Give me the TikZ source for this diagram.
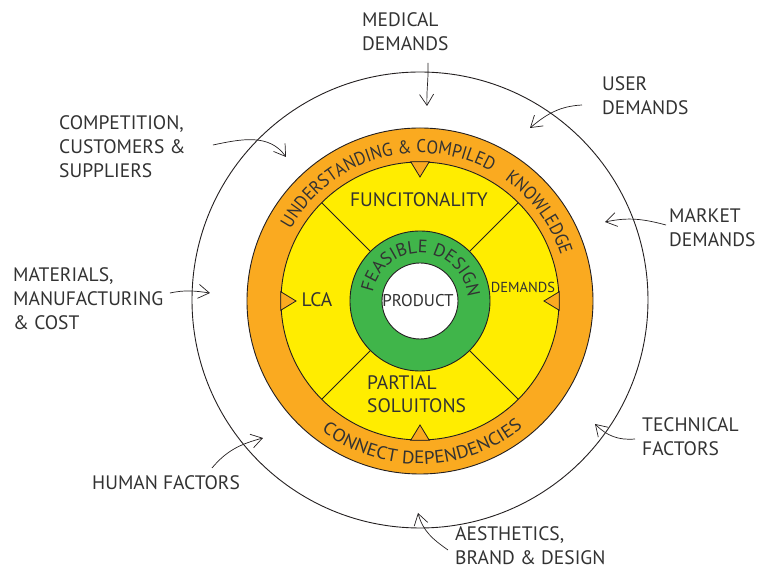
\documentclass[tikz,border=0pt]{standalone}
\usepackage{fontspec}
\setmainfont{PT Sans}
\newfontfamily\arcfont[FakeStretch=0.92]{PT Sans}
\newfontfamily\arcwide[FakeStretch=1.07]{PT Sans}
\usetikzlibrary{arrows.meta,decorations.text}
\definecolor{ringorange}{RGB}{250,170,32}
\definecolor{ringyellow}{RGB}{255,237,0}
\definecolor{ringgreen}{RGB}{64,181,74}
\definecolor{txtgray}{RGB}{50,50,50}
\definecolor{linegray}{RGB}{35,31,32}
\begin{document}
\begin{tikzpicture}[x=1pt,y=1pt]
\tikzset{
  ringline/.style={draw=linegray, line width=0.9pt},
  lbl/.style={align=left, anchor=west, inner sep=0pt, text=txtgray, font=\fontsize{19.5}{24}\selectfont},
  inlbl/.style={inner sep=0pt, text=txtgray, font=\fontsize{19.5}{23}\selectfont},
  infl/.style={-{Straight Barb[length=11pt,width=14pt]}, line width=0.7pt, draw=linegray},
  tri/.style={fill=ringorange, draw=linegray, line width=0.8pt, line join=miter}
}
\useasboundingbox (-420,-268) rectangle (338,301);
% rings
\draw[ringline] (0,1) circle[radius=228];
\draw[ringline, fill=ringorange] (0,0) circle[radius=173];
\draw[ringline, fill=ringyellow] (0,0) circle[radius=139];
\foreach \a in {45,135,225,315} \draw[ringline] (\a:70) -- (\a:139);
\draw[ringline, fill=ringgreen] (0,0) circle[radius=70];
\draw[ringline, fill=white] (0,0) circle[radius=38];
% triangles
\foreach \a in {0,90,180,270}
  \draw[tri] (\a+3.8:139.5) -- (\a:124) -- (\a-3.8:139.5) -- cycle;
% arc texts
\path[decorate, decoration={text along path, text align=center, text color=txtgray,
  text={|\arcfont\fontsize{18.5}{18.5}\selectfont|UNDERSTANDING {\&} COMPILED}}]
  (160:148) arc[start angle=160, end angle=52, radius=148];
\path[decorate, decoration={text along path, text align=center, text color=txtgray,
  text={|\arcfont\fontsize{18.5}{18.5}\selectfont|KNOWLEDGE}}]
  (64:148) arc[start angle=64, end angle=9, radius=148];
\path[decorate, decoration={text along path, text align=center, text color=txtgray,
  text={|\arcwide\fontsize{18}{18}\selectfont|CONNECT DEPENDENCIES}}]
  (218:163) arc[start angle=218, end angle=324, radius=163];
\path[decorate, decoration={text along path, text align=center, text color=txtgray,
  text={|\fontsize{18}{18}\selectfont|FEASIBLE DESIGN}}]
  (182:48) arc[start angle=182, end angle=-8, radius=48];
% inner labels
\node[inlbl] (func) at (-1,101) {FUNCITONALITY};
\node[inlbl] (lca) at (-103,1) {LCA};
\node[inlbl, font=\fontsize{14.5}{14.5}\selectfont] (dem) at (103,14) {DEMANDS};
\node[inlbl, align=left, anchor=west] (part) at (-53,-93.5) {PARTIAL\\SOLUITONS};
\node[inlbl, font=\fontsize{17}{17}\selectfont] (prod) at (-2,0) {PRODUCT};
% outer labels
\node[lbl] (med) at (-58,269.5) {MEDICAL\\DEMANDS};
\node[lbl] (user) at (182,205) {USER\\DEMANDS};
\node[lbl] (comp) at (-361,154) {COMPETITION,\\CUSTOMERS \&\\SUPPLIERS};
\node[lbl] (mat) at (-407,2) {MATERIALS,\\MANUFACTURING\\\& COST};
\node[lbl] (mark) at (249,73.5) {MARKET\\DEMANDS};
\node[lbl] (tech) at (222,-135.5) {TECHNICAL\\FACTORS};
\node[lbl] (hum) at (-328,-182) {HUMAN FACTORS};
\node[lbl] (aes) at (35,-244.5) {AESTHETICS,\\BRAND \& DESIGN};
% arrow ends
\coordinate (medS) at (8,238);   \coordinate (medE) at (7,195);
\coordinate (userS) at (162,196); \coordinate (userE) at (110,173);
\coordinate (compS) at (-207,156); \coordinate (compE) at (-134,144);
\coordinate (matS) at (-250,8);  \coordinate (matE) at (-210,8);
\coordinate (markS) at (246,76); \coordinate (markE) at (185,79);
\coordinate (techS) at (215,-138); \coordinate (techE) at (175,-123);
\coordinate (humS) at (-208,-167); \coordinate (humE) at (-157,-137);
\coordinate (aesS) at (28,-249); \coordinate (aesE) at (-2,-212);
% arrows
\draw[infl] (medS) to[out=-88,in=92] (medE);
\draw[infl] (userS) to[out=183,in=40] (userE);
\draw[infl] (compS) to[out=12,in=125] (compE);
\draw[infl] (matS) to[out=12,in=172] (matE);
\draw[infl] (markS) to[out=165,in=12] (markE);
\draw[infl] (techS) to[out=185,in=-45] (techE);
\draw[infl] (humS) to[out=50,in=195] (humE);
\draw[infl] (aesS) to[out=145,in=-75] (aesE);
\end{tikzpicture}
\end{document}
